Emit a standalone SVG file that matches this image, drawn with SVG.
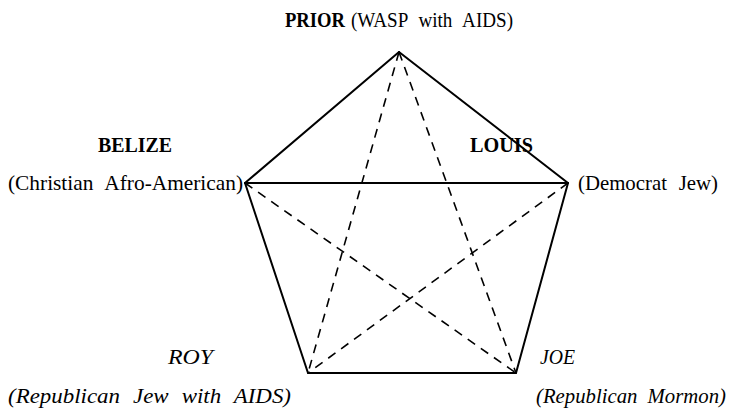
<svg xmlns="http://www.w3.org/2000/svg" width="737" height="412" viewBox="0 0 737 412">
<style>
text{font-family:"Liberation Serif","Times New Roman",serif;font-size:22px;fill:#000;word-spacing:7px}
.b{font-weight:bold}
.i{font-style:italic}
.s{stroke:#000;stroke-width:2;fill:none;stroke-linecap:round}
.d{stroke:#000;stroke-width:1.6;fill:none;stroke-dasharray:9 7}
</style>
<rect width="737" height="412" fill="#fff"/>
<g id="connectors">
<line class="s" x1="399" y1="52" x2="245" y2="183"/>
<line class="s" x1="399" y1="52" x2="568" y2="183"/>
<line class="s" x1="245" y1="183" x2="568" y2="183"/>
<line class="s" x1="245" y1="183" x2="308" y2="373"/>
<line class="s" x1="568" y1="183" x2="516" y2="373"/>
<line class="s" x1="308" y1="373" x2="516" y2="373"/>
<line class="d" x1="399" y1="52" x2="308" y2="373"/>
<line class="d" x1="399" y1="52" x2="516" y2="373"/>
<line class="d" x1="245" y1="183" x2="516" y2="373"/>
<line class="d" x1="568" y1="183" x2="308" y2="373"/>
</g>
<g id="prior">
<text class="b" x="285" y="27" textLength="60" lengthAdjust="spacingAndGlyphs">PRIOR</text>
<text x="351" y="27" textLength="162" lengthAdjust="spacingAndGlyphs">(WASP with AIDS)</text>
</g>
<g id="belize">
<text class="b" x="98" y="152" textLength="74" lengthAdjust="spacingAndGlyphs">BELIZE</text>
<text x="8" y="190" textLength="235" lengthAdjust="spacingAndGlyphs">(Christian Afro-American)</text>
</g>
<g id="louis">
<text class="b" x="470" y="152" textLength="63" lengthAdjust="spacingAndGlyphs">LOUIS</text>
<text x="578" y="190" textLength="140" lengthAdjust="spacingAndGlyphs">(Democrat Jew)</text>
</g>
<g id="roy">
<text class="i" x="168" y="364" textLength="45" lengthAdjust="spacingAndGlyphs">ROY</text>
<text class="i" x="8" y="403" textLength="283" lengthAdjust="spacingAndGlyphs">(Republican Jew with AIDS)</text>
</g>
<g id="joe">
<text class="i" x="540" y="364" textLength="35" lengthAdjust="spacingAndGlyphs">JOE</text>
<text class="i" x="536" y="403" style="font-size:21px;word-spacing:5px" textLength="190" lengthAdjust="spacingAndGlyphs">(Republican Mormon)</text>
</g>
</svg>
